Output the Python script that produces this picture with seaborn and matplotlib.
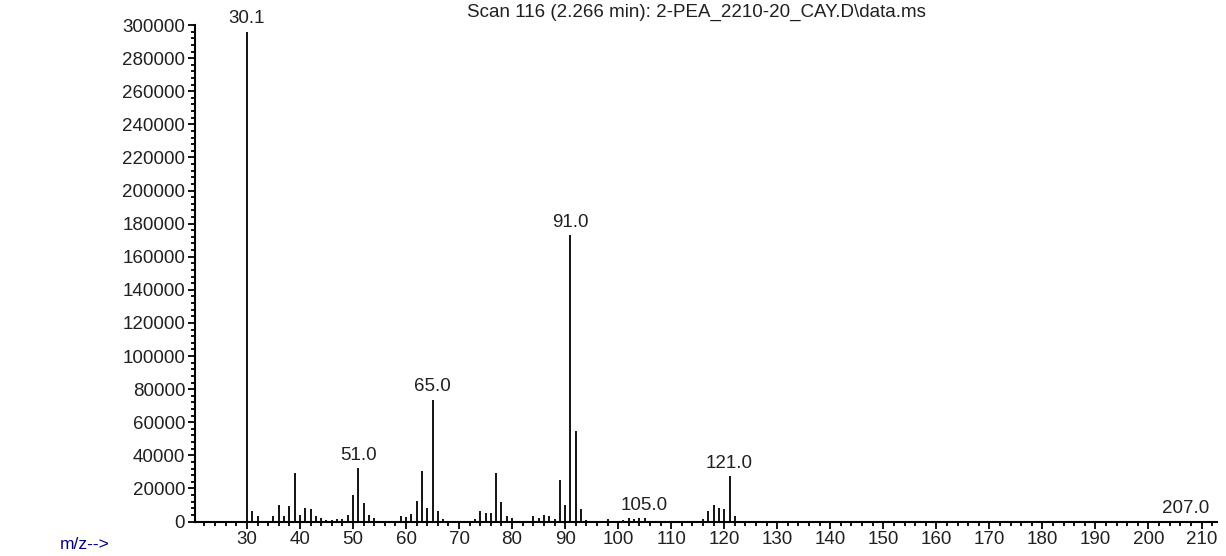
import numpy as np
import pandas as pd
import seaborn as sns
import matplotlib.pyplot as plt
from matplotlib.ticker import MultipleLocator

# m/z values and abundances
mz = [30, 31, 32, 35, 36, 37, 38, 39, 40, 41, 42, 43, 44, 45, 46, 47, 48, 49,
      50, 51, 52, 53, 54, 59, 60, 61, 62, 63, 64, 65, 66, 67,
      73, 74, 75, 76, 77, 78, 79, 80, 84, 85, 86, 87, 88, 89, 90, 91, 92, 93, 94,
      98, 101, 102, 103, 104, 105, 116, 117, 118, 119, 120, 121, 122, 207]
abundance = [296000, 6300, 3200, 3200, 10100, 3200, 9100, 29500, 4200, 8300, 7300, 3200, 2200, 1000, 1000, 1600, 1600, 4200,
             16000, 32300, 11100, 4200, 2200, 3600, 2600, 4700, 12300, 30500, 8300, 73700, 6300, 1800,
             1600, 6300, 5300, 5300, 29500, 12100, 3200, 2200, 3200, 2200, 4200, 3200, 1800, 24800, 10100, 173000, 55000, 7300, 1200,
             1600, 1200, 2200, 1600, 2200, 2200, 1600, 6300, 10100, 8300, 7300, 27500, 3600, 500]

label_mz = [30, 51, 65, 91, 105, 121, 207]
label_text = ["30.1", "51.0", "65.0", "91.0", "105.0", "121.0", "207.0"]

title = "Scan 116 (2.266 min): 2-PEA_2210-20_CAY.D\\data.ms"

sns.set_style("ticks")
plt.rcParams['font.family'] = ['Liberation Sans', 'DejaVu Sans']
plt.rcParams['font.size'] = 13.5

df = pd.DataFrame({'mz': mz, 'abundance': abundance})

fig = plt.figure(figsize=(12.26, 5.56), dpi=100)
ax = fig.add_axes([0.159, 0.062, 0.834, 0.893])

ax.vlines(df['mz'], 0, df['abundance'], color='black', lw=1.3)

lookup = dict(zip(df['mz'], df['abundance']))
for m, t in zip(label_mz, label_text):
    ax.annotate(t, (m, lookup[m]), xytext=(0, 3), textcoords='offset points',
                ha='center', va='bottom', fontsize=13.5, color='#202020')

ax.set_xlim(20.2, 213)
ax.set_ylim(0, 300000)
ax.xaxis.set_major_locator(MultipleLocator(10))
ax.xaxis.set_minor_locator(MultipleLocator(2))
ax.yaxis.set_major_locator(MultipleLocator(20000))
ax.yaxis.set_minor_locator(MultipleLocator(4000))
ax.set_xticks(np.arange(30, 211, 10))
ax.tick_params(axis='both', which='major', length=5, width=1.3, colors='black', labelsize=13.5, pad=2)
ax.tick_params(axis='both', which='minor', length=3, width=1.3, colors='black')
ax.tick_params(axis='both', labelcolor='#202020')
sns.despine(ax=ax)
for s in ['left', 'bottom']:
    ax.spines[s].set_linewidth(1.5)
    ax.spines[s].set_color('black')

fig.text(0.568, 0.978, title, ha='center', va='center', fontsize=13.5, color='#202020')
fig.text(0.049, 0.02, "m/z-->", ha='left', va='center', fontsize=12.5, color='#000080')

fig.savefig("out.png", dpi=100)
